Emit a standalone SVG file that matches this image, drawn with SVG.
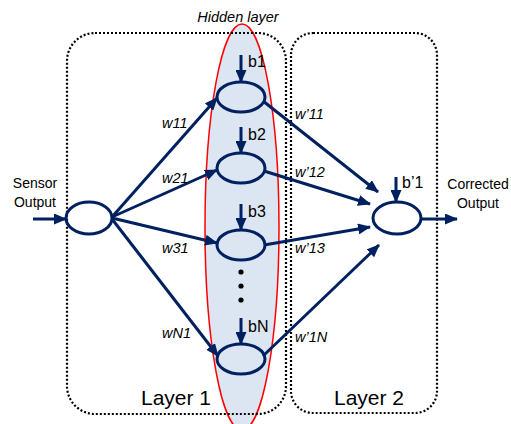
<svg xmlns="http://www.w3.org/2000/svg" width="511" height="424" viewBox="0 0 511 424">
<defs>
<marker id="ah" markerUnits="userSpaceOnUse" markerWidth="13" markerHeight="11" refX="12" refY="5.5" orient="auto">
<path d="M0,0 L13,5.5 L0,11 z" fill="#002060"/>
</marker>
<style>
.box{fill:none;stroke:#000;stroke-width:2.2;stroke-dasharray:2 2}
.node{fill:none;stroke:#002060;stroke-width:3}
.edge{fill:none;stroke:#002060;stroke-width:3;marker-end:url(#ah)}
.t{font-family:"Liberation Sans",Arial,sans-serif;fill:#000}
.w{font-family:"Liberation Sans",Arial,sans-serif;font-style:italic;font-size:14.5px;fill:#000}
.b{font-family:"Liberation Sans",Arial,sans-serif;font-size:16px;fill:#000}
</style>
</defs>
<rect width="511" height="424" fill="#fff"/>
<g id="hidden-layer">
<ellipse cx="242" cy="227" rx="37" ry="203" fill="#dce6f2" stroke="#ff0000" stroke-width="1.5"/>
<text class="t" x="238" y="22" font-size="14.5" font-style="italic" text-anchor="middle">Hidden layer</text>
</g>
<g id="layer1">
<rect class="box" x="67" y="33" width="219" height="381" rx="28"/>
<text class="t" x="176" y="405" font-size="21" text-anchor="middle">Layer 1</text>
</g>
<g id="layer2">
<rect class="box" x="291" y="33" width="146" height="380" rx="22"/>
<text class="t" x="369" y="405" font-size="21" text-anchor="middle">Layer 2</text>
</g>
<g id="connectors">
<line class="edge" x1="33" y1="219" x2="66" y2="219"/>
<line class="edge" x1="112" y1="217" x2="217" y2="98"/>
<line class="edge" x1="112" y1="217" x2="217" y2="170"/>
<line class="edge" x1="112" y1="218" x2="217" y2="243"/>
<line class="edge" x1="112" y1="219" x2="218" y2="356"/>
<line class="edge" x1="263" y1="101" x2="378" y2="192"/>
<line class="edge" x1="264" y1="171" x2="370" y2="204"/>
<line class="edge" x1="264" y1="245" x2="370" y2="227"/>
<line class="edge" x1="263" y1="356" x2="379" y2="245"/>
<line class="edge" x1="421" y1="219" x2="457" y2="219"/>
<line class="edge" x1="241" y1="55" x2="241" y2="82"/>
<line class="edge" x1="241" y1="127" x2="241" y2="153"/>
<line class="edge" x1="241" y1="204" x2="241" y2="230"/>
<line class="edge" x1="241" y1="318" x2="241" y2="344"/>
<line class="edge" x1="396" y1="177" x2="396" y2="202"/>
</g>
<g id="input-node">
<ellipse class="node" cx="89" cy="218" rx="23" ry="16"/>
<text class="t" x="35" y="188" font-size="14" text-anchor="middle">Sensor</text>
<text class="t" x="35" y="207" font-size="14" text-anchor="middle">Output</text>
</g>
<g id="hidden-node-1">
<ellipse class="node" cx="241" cy="97" rx="24" ry="15"/>
<text class="b" x="248" y="67">b1</text>
</g>
<g id="hidden-node-2">
<ellipse class="node" cx="241" cy="168" rx="24" ry="15"/>
<text class="b" x="248" y="140">b2</text>
</g>
<g id="hidden-node-3">
<ellipse class="node" cx="241" cy="245" rx="24" ry="15"/>
<text class="b" x="248" y="217">b3</text>
</g>
<g id="dots">
<circle cx="241" cy="272" r="2.6" fill="#000"/>
<circle cx="241" cy="286" r="2.6" fill="#000"/>
<circle cx="241" cy="300" r="2.6" fill="#000"/>
</g>
<g id="hidden-node-N">
<ellipse class="node" cx="241" cy="359" rx="24" ry="15"/>
<text class="b" x="248" y="332">bN</text>
</g>
<g id="output-node">
<ellipse class="node" cx="397" cy="218" rx="24" ry="16"/>
<text class="b" x="402" y="188">b’1</text>
<text class="t" x="478" y="189" font-size="14" text-anchor="middle">Corrected</text>
<text class="t" x="478" y="208" font-size="14" text-anchor="middle">Output</text>
</g>
<g id="weight-labels">
<text class="w" x="162" y="128">w11</text>
<text class="w" x="162" y="183">w21</text>
<text class="w" x="162" y="253">w31</text>
<text class="w" x="162" y="338">wN1</text>
<text class="w" x="295" y="119">w’11</text>
<text class="w" x="295" y="177">w’12</text>
<text class="w" x="295" y="253">w’13</text>
<text class="w" x="295" y="342">w’1N</text>
</g>
</svg>
